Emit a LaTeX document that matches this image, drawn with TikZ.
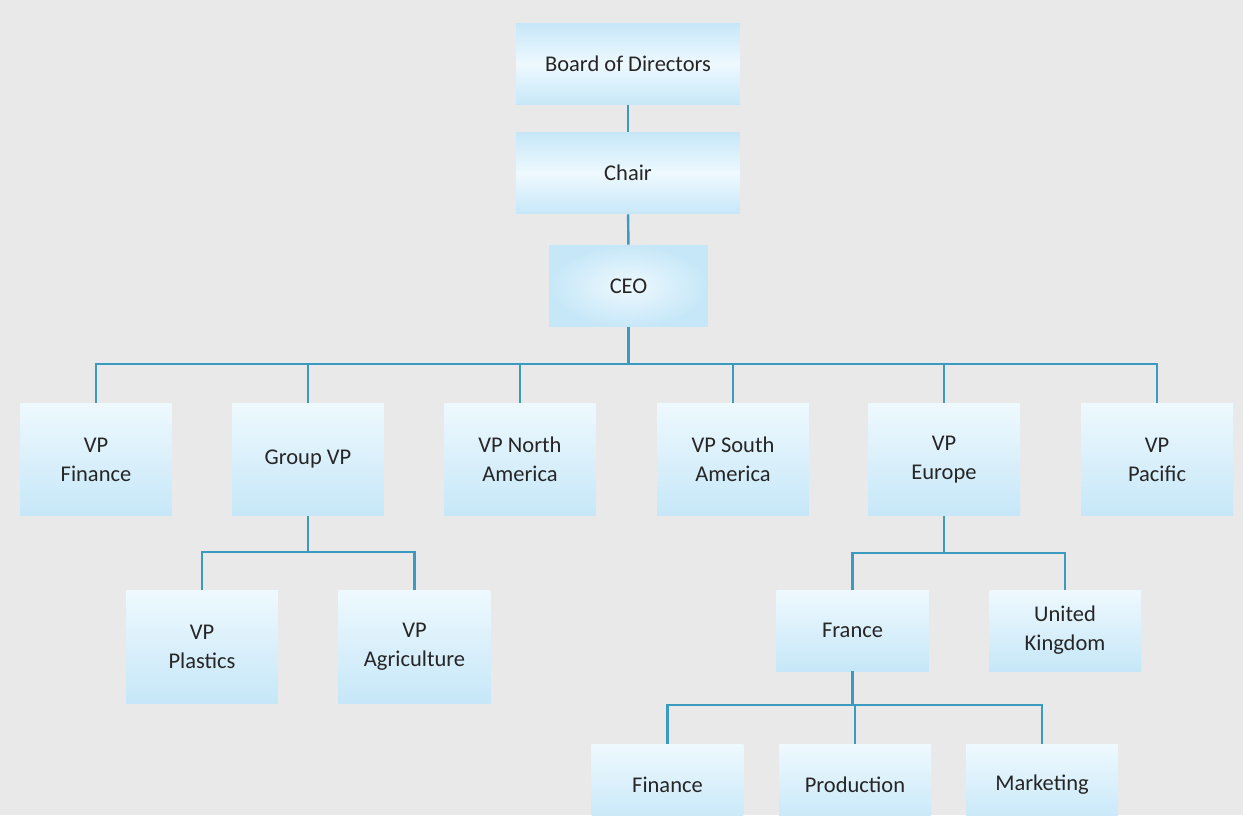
\documentclass[tikz,border=0pt]{standalone}
\usepackage{fontspec}
\setmainfont{Carlito}
\definecolor{linecol}{HTML}{3A9AC0}
\definecolor{boxblue}{HTML}{C6E7F8}
\definecolor{boxlight}{HTML}{EEF9FE}
\definecolor{bgcol}{HTML}{E9E9E9}
\definecolor{txtcol}{HTML}{262626}

\begin{document}
\begin{tikzpicture}[x=0.02cm,y=-0.02cm,
		box/.style={rectangle,align=center,inner sep=0pt,text=txtcol,font={\fontsize{12.8}{16.5}\selectfont},minimum width=3.04cm,minimum height=2.26cm,top color=boxlight,bottom color=boxblue},
		bandbox/.style={box,top color=boxblue,bottom color=boxblue,middle color=boxlight,minimum width=4.48cm,minimum height=1.64cm},
		smallbox/.style={box,minimum height=1.62cm},
		link/.style={draw=linecol,line width=1.4pt}]

				\clip (0,0) rectangle (1243,815);
				\fill[bgcol] (0,0) rectangle (1243,815);

				\node[bandbox] (board) at (628,64) {Board of Directors};
				\node[bandbox] (chair) at (628,173) {Chair};
				\node[box,minimum width=3.18cm,minimum height=1.64cm,inner color=boxlight,outer color=boxblue] (ceo) at (628.5,286) {CEO};

				\node[box] (vpfin) at (96,459.5) {VP\\Finance};
				\node[box] (groupvp) at (308,459.5) {Group VP};
				\node[box] (vpna) at (520,459.5) {VP North\\America};
				\node[box] (vpsa) at (733,459.5) {VP South\\America};
				\node[box] (vpeur) at (944,459.5) {VP\\Europe};
				\node[box] (vppac) at (1157,459.5) {VP\\Pacific};

				\node[box] (vpplast) at (202,646.5) {VP\\Plastics};
				\node[box] (vpagri) at (414.5,646.5) {VP\\Agriculture};

				\node[smallbox] (france) at (852.5,630.5) {France};
				\node[smallbox] (uk) at (1065,630.5) {United\\Kingdom};

				\node[smallbox] (fin) at (667.5,784.5) {Finance};
				\node[smallbox] (prod) at (855,784.5) {Production};
				\node[smallbox] (mark) at (1042,784.5) {Marketing};

				\coordinate (ceobus) at (628.5,364);
				\coordinate (groupbus) at (308,552);
				\coordinate (eurbus) at (944,553);
				\coordinate (francebus) at (852.5,705);

				\draw[link] (board) -- (chair);
				\draw[link] (chair) -- (ceo);
				\draw[link] (ceo) -- (ceobus);
				\foreach \n in {vpfin,groupvp,vpna,vpsa,vpeur,vppac}
					\draw[link] (ceobus) -| (\n.north);

				\draw[link] (groupvp) -- (groupbus);
				\foreach \n in {vpplast,vpagri}
					\draw[link] (groupbus) -| (\n.north);

				\draw[link] (vpeur) -- (eurbus);
				\foreach \n in {france,uk}
					\draw[link] (eurbus) -| (\n.north);

				\draw[link] (france) -- (francebus);
				\foreach \n in {fin,prod,mark}
					\draw[link] (francebus) -| (\n.north);

\end{tikzpicture}
\end{document}
